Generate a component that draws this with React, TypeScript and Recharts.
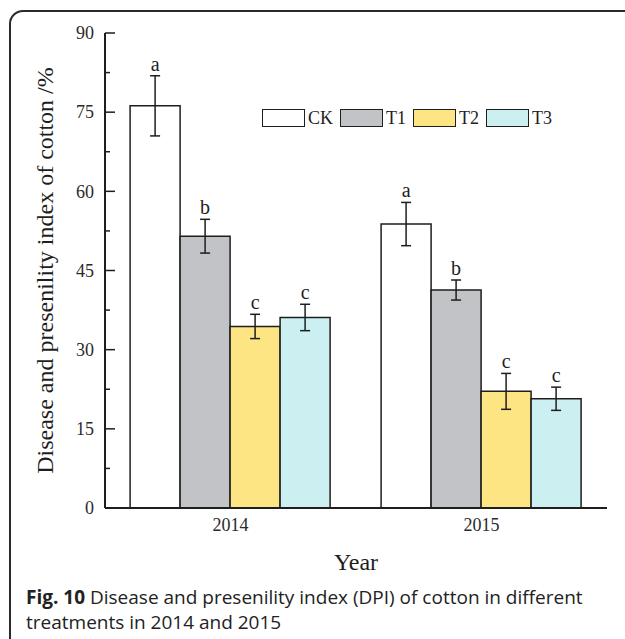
import React from 'react';
import { BarChart, Bar, XAxis, YAxis, ErrorBar, LabelList } from 'recharts';

const years = ['2014', '2015'];

const ckValues = [76.2, 53.8];
const t1Values = [51.5, 41.3];
const t2Values = [34.4, 22.1];
const t3Values = [36.1, 20.7];

const ckErrors = [5.7, 4.1];
const t1Errors = [3.2, 1.9];
const t2Errors = [2.3, 3.4];
const t3Errors = [2.5, 2.2];

const ckLetters = ['a', 'a'];
const t1Letters = ['b', 'b'];
const t2Letters = ['c', 'c'];
const t3Letters = ['c', 'c'];

const yTicks = [0, 7.5, 15, 22.5, 30, 37.5, 45, 52.5, 60, 67.5, 75, 82.5, 90];

const series = [
  { key: 'CK', fill: '#ffffff', values: ckValues, errors: ckErrors, letters: ckLetters },
  { key: 'T1', fill: '#c2c3c7', values: t1Values, errors: t1Errors, letters: t1Letters },
  { key: 'T2', fill: '#fde584', values: t2Values, errors: t2Errors, letters: t2Letters },
  { key: 'T3', fill: '#ccf0f1', values: t3Values, errors: t3Errors, letters: t3Letters },
];

const data = years.map((year, i) => {
  const row: any = { year };
  series.forEach((s) => {
    row[s.key] = s.values[i];
    row[s.key + 'Err'] = s.errors[i];
  });
  return row;
});

const SERIF = '"Liberation Serif", "Times New Roman", serif';
const INK = '#1e1e1e';

const YTick = (props: any) => {
  const { x, y, payload } = props;
  const v = payload.value;
  const major = v % 15 === 0;
  const axisX = x + 11;
  return (
    <g>
      <line x1={axisX} x2={axisX + (major ? 10 : 5)} y1={y} y2={y} stroke={INK} strokeWidth={1.5} />
      {major && (
        <text x={x} y={y} dy="0.35em" textAnchor="end" fontFamily={SERIF} fontSize={18} fill="#2a2a2a">
          {v}
        </text>
      )}
    </g>
  );
};

const makeLetter = (letters: string[], errors: number[]) => (props: any) => {
  const vb = props.viewBox ?? props;
  const { x, y, width, height } = vb;
  const idx = props.index ?? 0;
  const value = Number(props.value);
  if (!value) return null;
  const pxPerUnit = Math.abs(height) / value;
  const errTop = y - errors[idx] * pxPerUnit;
  return (
    <text x={x + width / 2} y={errTop - 5} textAnchor="middle" fontFamily={SERIF} fontSize={20} fill={INK}>
      {letters[idx]}
    </text>
  );
};

const YLabel = (props: any) => {
  const vb = props.viewBox;
  const cy = vb ? vb.y + vb.height / 2 : 270;
  return (
    <text
      x={45}
      y={cy}
      transform={`rotate(-90, 45, ${cy})`}
      textAnchor="middle"
      dominantBaseline="central"
      fontFamily={SERIF}
      fontSize={24}
      fill={INK}
    >
      Disease and presenility index of cotton /%
    </text>
  );
};

export default function App() {
  return (
    <div style={{ position: 'fixed', left: 0, top: 0, width: 625, height: 639, overflow: 'hidden', background: '#fff' }}>
      <div
        style={{
          position: 'absolute',
          left: 9,
          top: 10,
          width: 700,
          height: 700,
          border: '2px solid #2a2a2a',
          borderRadius: 14,
        }}
      />
      <div style={{ position: 'absolute', left: 0, top: 0 }}>
        <BarChart
          width={625}
          height={538}
          data={data}
          margin={{ top: 33, right: 18, left: 45, bottom: 0 }}
          barCategoryGap="10%"
          barGap={0}
        >
          <XAxis
            dataKey="year"
            height={30}
            tickLine={false}
            tickSize={0}
            tickMargin={10}
            axisLine={{ stroke: INK, strokeWidth: 2 }}
            tick={{ fontFamily: SERIF, fontSize: 18, fill: '#2a2a2a' }}
          />
          <YAxis
            width={60}
            domain={[0, 90]}
            ticks={yTicks}
            interval={0}
            tickLine={false}
            tickSize={0}
            tickMargin={11}
            axisLine={{ stroke: INK, strokeWidth: 2 }}
            tick={<YTick />}
            label={{ content: (p: any) => <YLabel {...p} /> }}
          />
          {series.map((s) => (
            <Bar
              key={s.key}
              dataKey={s.key}
              fill={s.fill}
              stroke={INK}
              strokeWidth={1.5}
              isAnimationActive={false}
            >
              <ErrorBar dataKey={s.key + 'Err'} width={5} stroke={INK} strokeWidth={1.5} direction="y" />
              <LabelList dataKey={s.key} content={makeLetter(s.letters, s.errors)} />
            </Bar>
          ))}
        </BarChart>
      </div>

      <div style={{ position: 'absolute', left: 262, top: 109, display: 'flex', alignItems: 'center' }}>
        {series.map((s) => (
          <div key={s.key} style={{ display: 'flex', alignItems: 'center' }}>
            <div
              style={{
                width: 43,
                height: 18,
                boxSizing: 'border-box',
                border: `1.5px solid ${INK}`,
                background: s.fill,
              }}
            />
            <span style={{ fontFamily: SERIF, fontSize: 18, color: INK, marginLeft: 3, marginRight: 7, lineHeight: '18px' }}>
              {s.key}
            </span>
          </div>
        ))}
      </div>

      <div
        style={{
          position: 'absolute',
          left: 251,
          top: 547,
          width: 210,
          textAlign: 'center',
          fontFamily: SERIF,
          fontSize: 24,
          color: INK,
          lineHeight: '30px',
        }}
      >
        Year
      </div>

      <div
        style={{
          position: 'absolute',
          left: 26,
          top: 585,
          fontFamily: '"Open Sans", "Noto Sans", sans-serif',
          fontSize: 19,
          lineHeight: '25px',
          color: '#222',
          whiteSpace: 'nowrap',
        }}
      >
        <div>
          <b>Fig. 10</b> Disease and presenility index (DPI) of cotton in different
        </div>
        <div>treatments in 2014 and 2015</div>
      </div>
    </div>
  );
}
